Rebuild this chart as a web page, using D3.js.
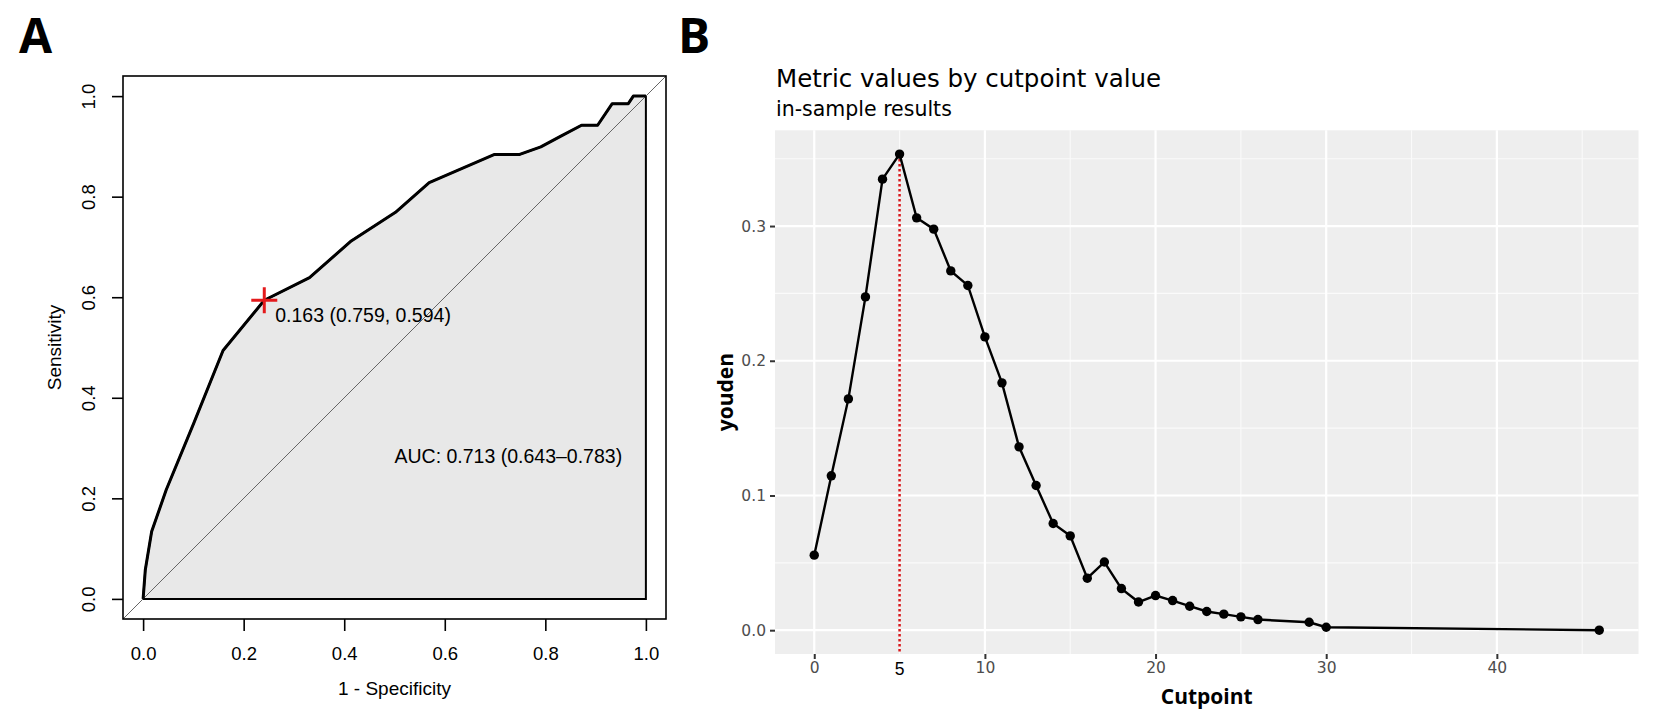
<!DOCTYPE html>
<html>
<head>
<meta charset="utf-8">
<script src="https://cdn.jsdelivr.net/npm/d3@7"></script>
<style>
  html, body { margin: 0; padding: 0; background: #ffffff; }
  svg { display: block; }
</style>
</head>
<body>
<div id="view"></div>
<script>
var width = 1661, height = 721;

// panel A : ROC curve (1 - specificity, sensitivity)
var rocFpr  = [0, 0.0044, 0.017, 0.046, 0.1006, 0.159, 0.241, 0.331, 0.414, 0.502, 0.569, 0.699, 0.749, 0.791, 0.83, 0.872, 0.904, 0.933, 0.965, 0.975, 1.0];
var rocSens = [0, 0.058, 0.134, 0.217, 0.349, 0.494, 0.594, 0.639, 0.712, 0.769, 0.828, 0.884, 0.884, 0.899, 0.92, 0.942, 0.942, 0.985, 0.985, 1.0, 1.0];
var rocTicks = [0, 0.2, 0.4, 0.6, 0.8, 1.0];
var bestPoint = { fpr: 0.241, sens: 0.594, label: "0.163 (0.759, 0.594)" };
var aucLabel = "AUC: 0.713 (0.643\u20130.783)";

// panel B : youden index by cutpoint
var cutpoints = [0, 1, 2, 3, 4, 5, 6, 7, 8, 9, 10, 11, 12, 13, 14, 15, 16, 17, 18, 19, 20, 21, 22, 23, 24, 25, 26, 29, 30, 46];
var youden = [0.0557, 0.1146, 0.1717, 0.2474, 0.3348, 0.3534, 0.3061, 0.2977, 0.2667, 0.2559, 0.2177, 0.1836, 0.1361, 0.1074, 0.0792, 0.0700, 0.0386, 0.0506, 0.0309, 0.0209, 0.0257, 0.0220, 0.0178, 0.0139, 0.0119, 0.0099, 0.0079, 0.0059, 0.0022, 0.0];
var xTicksB = [0, 10, 20, 30, 40];
var xMinorB = [5, 15, 25, 35, 45];
var yTicksB = [0.0, 0.1, 0.2, 0.3];
var yMinorB = [0.05, 0.15, 0.25, 0.35];
var bestCut = 5;

var svg = d3.select("#view").append("svg")
	.attr("width", width)
	.attr("height", height);

// panel letters
svg.append("text").attr("x", 19).attr("y", 53).text("A")
	.style("font-family", "Open Sans").style("font-weight", 700).style("font-size", "48px");
svg.append("text").attr("x", 678).attr("y", 53).text("B")
	.style("font-family", "Open Sans").style("font-weight", 700).style("font-size", "48px");

// ---------------- panel A ----------------
var ax = d3.scaleLinear().domain([-0.04, 1.04]).range([123, 666]);
var ay = d3.scaleLinear().domain([-0.04, 1.04]).range([619, 76]);
var rocData = rocFpr.map(function(d, i) { return { x: d, y: rocSens[i] }; });

var gA = svg.append("g");

// area under the curve
var poly = rocData.concat([{ x: 1, y: 0 }]);
gA.append("path")
	.datum(poly)
	.attr("d", d3.line().x(function(d) { return ax(d.x); }).y(function(d) { return ay(d.y); }).curve(d3.curveLinearClosed))
	.style("fill", "#e8e8e8")
	.style("stroke", "#000")
	.style("stroke-width", 2);

// chance diagonal, clipped to the box
gA.append("line")
	.attr("x1", ax(-0.04)).attr("y1", ay(-0.04))
	.attr("x2", ax(1.04)).attr("y2", ay(1.04))
	.style("stroke", "#666").style("stroke-width", 1);

// roc curve
gA.append("path")
	.datum(rocData)
	.attr("d", d3.line().x(function(d) { return ax(d.x); }).y(function(d) { return ay(d.y); }))
	.style("fill", "none")
	.style("stroke", "#000")
	.style("stroke-width", 3)
	.style("stroke-linejoin", "round");

// box
gA.append("rect")
	.attr("x", ax(-0.04)).attr("y", ay(1.04))
	.attr("width", ax(1.04) - ax(-0.04)).attr("height", ay(-0.04) - ay(1.04))
	.style("fill", "none").style("stroke", "#000").style("stroke-width", 1.6);

// axes
var axisBottomA = d3.axisBottom(ax).tickValues(rocTicks).tickFormat(d3.format(".1f")).tickSize(12).tickSizeOuter(0);
var gxA = gA.append("g").attr("transform", "translate(0," + ay(-0.04) + ")").call(axisBottomA);
gxA.select(".domain").remove();
gxA.selectAll("line").style("stroke", "#000").style("stroke-width", 1.6);
gxA.selectAll("text")
	.attr("dy", 0).attr("y", 41)
	.style("font-family", "Liberation Sans, Arial").style("font-size", "18.5px").style("fill", "#000");

var axisLeftA = d3.axisLeft(ay).tickValues(rocTicks).tickFormat(d3.format(".1f")).tickSize(11).tickSizeOuter(0);
var gyA = gA.append("g").attr("transform", "translate(" + ax(-0.04) + ",0)").call(axisLeftA);
gyA.select(".domain").remove();
gyA.selectAll("line").style("stroke", "#000").style("stroke-width", 1.6);
gyA.selectAll("text")
	.attr("x", 0).attr("dy", 0)
	.attr("text-anchor", "middle")
	.attr("transform", "translate(-28,0) rotate(-90)")
	.style("font-family", "Liberation Sans, Arial").style("font-size", "18.5px").style("fill", "#000");

gA.append("text")
	.attr("x", (ax(0) + ax(1)) / 2).attr("y", 695)
	.attr("text-anchor", "middle")
	.text("1 - Specificity")
	.style("font-family", "Liberation Sans, Arial").style("font-size", "19px");
gA.append("text")
	.attr("transform", "translate(61," + (ay(0) + ay(1)) / 2 + ") rotate(-90)")
	.attr("text-anchor", "middle")
	.text("Sensitivity")
	.style("font-family", "Liberation Sans, Arial").style("font-size", "19px");

// best threshold marker
var px = ax(bestPoint.fpr), py = ay(bestPoint.sens);
gA.append("path")
	.attr("d", "M" + (px - 13) + "," + py + "H" + (px + 13) + "M" + px + "," + (py - 13) + "V" + (py + 13))
	.style("stroke", "#e41a1c").style("stroke-width", 3);
gA.append("text")
	.attr("x", px + 11).attr("y", py + 22)
	.text(bestPoint.label)
	.style("font-family", "Liberation Sans, Arial").style("font-size", "19.5px");

gA.append("text")
	.attr("x", ax(0.5)).attr("y", ay(0.284) + 7)
	.text(aucLabel)
	.style("font-family", "Liberation Sans, Arial").style("font-size", "19.5px");

// ---------------- panel B ----------------
var bx = d3.scaleLinear().domain([-2.3, 48.3]).range([775, 1638.5]);
var by = d3.scaleLinear().domain([-0.01767, 0.37107]).range([654, 130.3]);
var youData = cutpoints.map(function(d, i) { return { x: d, y: youden[i] }; });

var gB = svg.append("g");

gB.append("rect")
	.attr("x", bx.range()[0]).attr("y", by.range()[1])
	.attr("width", bx.range()[1] - bx.range()[0])
	.attr("height", by.range()[0] - by.range()[1])
	.style("fill", "#eeeeee");

gB.selectAll(".minorx").data(xMinorB).enter().append("line")
	.attr("x1", function(d) { return bx(d); }).attr("x2", function(d) { return bx(d); })
	.attr("y1", by.range()[0]).attr("y2", by.range()[1])
	.style("stroke", "#fafafa").style("stroke-width", 1.1);
gB.selectAll(".minory").data(yMinorB).enter().append("line")
	.attr("y1", function(d) { return by(d); }).attr("y2", function(d) { return by(d); })
	.attr("x1", bx.range()[0]).attr("x2", bx.range()[1])
	.style("stroke", "#fafafa").style("stroke-width", 1.1);
gB.selectAll(".majorx").data(xTicksB).enter().append("line")
	.attr("x1", function(d) { return bx(d); }).attr("x2", function(d) { return bx(d); })
	.attr("y1", by.range()[0]).attr("y2", by.range()[1])
	.style("stroke", "#ffffff").style("stroke-width", 2.2);
gB.selectAll(".majory").data(yTicksB).enter().append("line")
	.attr("y1", function(d) { return by(d); }).attr("y2", function(d) { return by(d); })
	.attr("x1", bx.range()[0]).attr("x2", bx.range()[1])
	.style("stroke", "#ffffff").style("stroke-width", 2.2);

// cutpoint marker line
var bestY = youden[cutpoints.indexOf(bestCut)];
gB.append("line")
	.attr("x1", bx(bestCut)).attr("x2", bx(bestCut))
	.attr("y1", by(bestY)).attr("y2", by.range()[0] - 2)
	.style("stroke", "#d7191c").style("stroke-width", 2.5).style("stroke-dasharray", "2.5,2.5");

gB.append("path")
	.datum(youData)
	.attr("d", d3.line().x(function(d) { return bx(d.x); }).y(function(d) { return by(d.y); }))
	.style("fill", "none").style("stroke", "#000").style("stroke-width", 2.4);

gB.selectAll(".node").data(youData).enter().append("circle")
	.attr("class", "node")
	.attr("cx", function(d) { return bx(d.x); })
	.attr("cy", function(d) { return by(d.y); })
	.attr("r", 4.7)
	.style("fill", "#000");

// axes
var axisBottomB = d3.axisBottom(bx).tickValues(xTicksB).tickSize(5).tickSizeOuter(0).tickPadding(3);
var gxB = gB.append("g").attr("transform", "translate(0," + by.range()[0] + ")").call(axisBottomB);
gxB.select(".domain").remove();
gxB.selectAll("line").style("stroke", "#333").style("stroke-width", 2);
gxB.selectAll("text")
	.style("font-family", "DejaVu Sans").style("font-size", "15.5px").style("fill", "#4d4d4d");

var axisLeftB = d3.axisLeft(by).tickValues(yTicksB).tickFormat(d3.format(".1f")).tickSize(5).tickSizeOuter(0).tickPadding(4);
var gyB = gB.append("g").attr("transform", "translate(" + bx.range()[0] + ",0)").call(axisLeftB);
gyB.select(".domain").remove();
gyB.selectAll("line").style("stroke", "#333").style("stroke-width", 2);
gyB.selectAll("text")
	.style("font-family", "DejaVu Sans").style("font-size", "15.5px").style("fill", "#4d4d4d");

// label at the chosen cutpoint
gB.append("text")
	.attr("x", bx(bestCut)).attr("y", 675)
	.attr("text-anchor", "middle")
	.text(bestCut)
	.style("font-family", "Liberation Sans, Arial").style("font-size", "17.5px").style("fill", "#000");

gB.append("text")
	.attr("x", (bx.range()[0] + bx.range()[1]) / 2).attr("y", 704)
	.attr("text-anchor", "middle")
	.text("Cutpoint")
	.style("font-family", "Open Sans").style("font-weight", 700).style("font-size", "21px");
gB.append("text")
	.attr("transform", "translate(733," + (by.range()[0] + by.range()[1]) / 2 + ") rotate(-90)")
	.attr("text-anchor", "middle")
	.text("youden")
	.style("font-family", "Open Sans").style("font-weight", 700).style("font-size", "21px");

gB.append("text")
	.attr("x", 776).attr("y", 87)
	.text("Metric values by cutpoint value")
	.style("font-family", "DejaVu Sans").style("font-size", "24.5px").style("fill", "#000");
gB.append("text")
	.attr("x", 776).attr("y", 116)
	.text("in-sample results")
	.style("font-family", "DejaVu Sans").style("font-size", "20.5px").style("fill", "#000");
</script>
</body>
</html>
